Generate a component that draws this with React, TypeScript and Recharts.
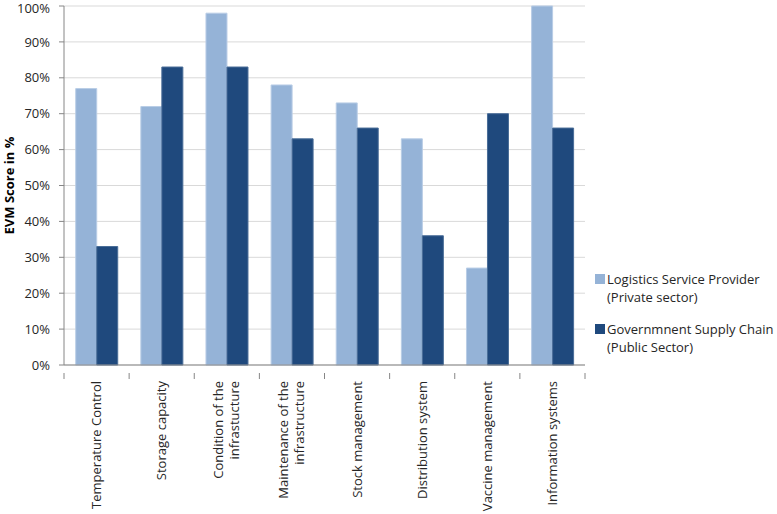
import React from 'react';
import { BarChart, Bar, XAxis, YAxis, CartesianGrid } from 'recharts';

const categories = [
  'Temperature Control',
  'Storage capacity',
  'Condition of the\ninfrastucture',
  'Maintenance of the\ninfrastructure',
  'Stock management',
  'Distribution system',
  'Vaccine management',
  'Information systems',
];
const privateSector = [77, 72, 98, 78, 73, 63, 27, 100];
const publicSector = [33, 83, 83, 63, 66, 36, 70, 66];
const yTicks = [0, 10, 20, 30, 40, 50, 60, 70, 80, 90, 100];

const seriesNames = ['Logistics Service Provider\n(Private sector)', 'Governmnent Supply Chain\n(Public Sector)'];
const seriesColors = ['#95B3D7', '#1F497D'];

const data = categories.map((c, i) => ({ name: c, lsp: privateSector[i], gov: publicSector[i] }));

const FONT = '"Open Sans", "Liberation Sans", sans-serif';
const TEXT = '#262626';

const W = 777;
const H = 514;
const LEFT = 64;
const RIGHT = 192;
const BAND = (W - LEFT - RIGHT) / categories.length;

function CategoryTick(props: any) {
  const { x, y, payload, index } = props;
  const lines = String(payload.value).split('\n');
  const lh = 16;
  const off = -((lines.length - 1) * lh) / 2;
  return (
    <g>
      <line x1={x - BAND / 2} x2={x - BAND / 2} y1={y} y2={y + 6} stroke="#868686" />
      {index === categories.length - 1 && (
        <line x1={x + BAND / 2} x2={x + BAND / 2} y1={y} y2={y + 6} stroke="#868686" />
      )}
      <text
        transform={`translate(${x},${y + 8}) rotate(-90)`}
        textAnchor="end"
        fontSize={13}
        fontFamily={FONT}
        fill={TEXT}
      >
        {lines.map((l, i) => (
          <tspan key={i} x={0} y={off + i * lh + 4.5}>{l}</tspan>
        ))}
      </text>
    </g>
  );
}

function LegendBox() {
  return (
    <div
      style={{
        position: 'absolute',
        left: 595,
        top: 270,
        fontFamily: FONT,
        fontSize: 13,
        color: TEXT,
        lineHeight: '18px',
      }}
    >
      {seriesNames.map((n, i) => (
        <div key={i} style={{ display: 'flex', alignItems: 'flex-start', marginBottom: i === 0 ? 14 : 0 }}>
          <span style={{ width: 10, height: 10, background: seriesColors[i], marginTop: 4, marginRight: 2, flex: 'none' }} />
          <span style={{ whiteSpace: 'pre' }}>{n}</span>
        </div>
      ))}
    </div>
  );
}

export default function App() {
  return (
    <div style={{ position: 'absolute', left: 0, top: 0, width: W, height: H, background: '#fff' }}>
      <BarChart
        width={W}
        height={H}
        data={data}
        margin={{ top: 6, right: RIGHT, bottom: 0, left: 0 }}
        barCategoryGap="18%"
        barGap={0}
      >
        <CartesianGrid vertical={false} stroke="#d9d9d9" />
        <XAxis
          dataKey="name"
          height={149}
          interval={0}
          tick={<CategoryTick />}
          tickLine={false}
          axisLine={{ stroke: '#868686' }}
        />
        <YAxis
          width={LEFT}
          domain={[0, 100]}
          ticks={yTicks}
          tickFormatter={(v: number) => `${v}%`}
          tickSize={5}
          tickMargin={9}
          tickLine={{ stroke: '#868686' }}
          axisLine={{ stroke: '#868686' }}
          tick={{ fontSize: 13, fontFamily: FONT, fill: TEXT }}
          label={{
            value: 'EVM Score in %',
            angle: -90,
            position: 'insideLeft',
            offset: 0,
            dx: 9,
            style: { fontSize: 13, fontWeight: 'bold', fontFamily: FONT, fill: '#000', textAnchor: 'middle' },
          }}
        />
        <Bar dataKey="lsp" name={seriesNames[0]} fill={seriesColors[0]} stroke="#b9cde6" strokeWidth={1} isAnimationActive={false} />
        <Bar dataKey="gov" name={seriesNames[1]} fill={seriesColors[1]} stroke="#4a6d98" strokeWidth={1} isAnimationActive={false} />
      </BarChart>
      <LegendBox />
    </div>
  );
}
